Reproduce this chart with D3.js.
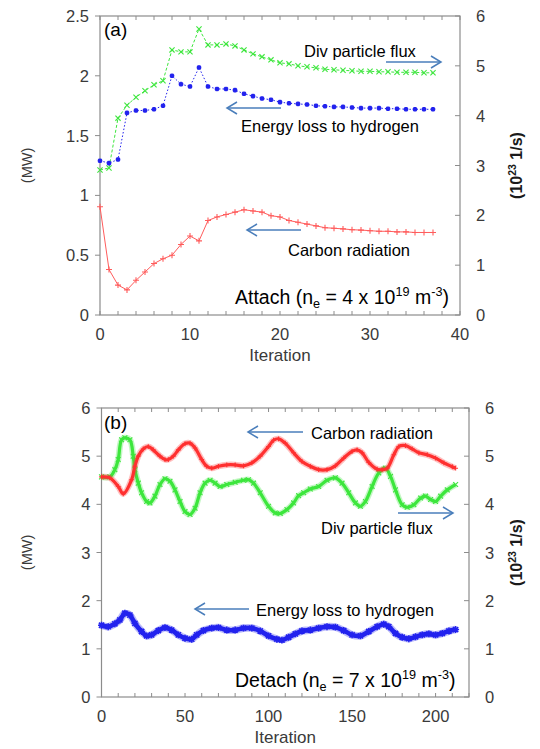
<!DOCTYPE html>
<html>
<head>
<meta charset="utf-8">
<script src="https://cdn.jsdelivr.net/npm/d3@7"></script>
<style>
  html, body { margin: 0; padding: 0; background: #fff; }
  svg { display: block; font-family: "Liberation Sans", Arial, sans-serif; }
</style>
</head>
<body>
<svg id="fig" width="540" height="749"></svg>
<script>
// ---- Panel (a): attached case, one point per iteration ----
const iterA = d3.range(0, 38);
const fluxA = [2.91, 2.95, 3.95, 4.21, 4.37, 4.50, 4.62, 4.70, 5.32, 5.28,
               5.28, 5.74, 5.42, 5.42, 5.44, 5.40, 5.32, 5.24, 5.18, 5.12,
               5.06, 5.04, 5.00, 4.98, 4.96, 4.93, 4.92, 4.91, 4.90, 4.89,
               4.89, 4.88, 4.88, 4.87, 4.87, 4.87, 4.86, 4.86];
const hydA = [1.29, 1.27, 1.30, 1.69, 1.71, 1.71, 1.72, 1.75, 2.00, 1.93,
              1.91, 2.07, 1.91, 1.89, 1.89, 1.88, 1.85, 1.83, 1.81, 1.80,
              1.78, 1.77, 1.765, 1.76, 1.75, 1.745, 1.74, 1.74, 1.735, 1.73,
              1.73, 1.73, 1.725, 1.725, 1.72, 1.72, 1.72, 1.72];
const carbA = [0.905, 0.38, 0.25, 0.21, 0.29, 0.36, 0.43, 0.47, 0.50, 0.59,
               0.66, 0.62, 0.79, 0.82, 0.84, 0.86, 0.88, 0.87, 0.86, 0.83,
               0.82, 0.79, 0.775, 0.76, 0.745, 0.73, 0.725, 0.72, 0.713, 0.71,
               0.705, 0.70, 0.70, 0.695, 0.695, 0.69, 0.69, 0.69];

// ---- Panel (b): detached case ----
const iterCarbB = [0, 5, 10, 13, 18, 20, 22, 25, 28, 31, 35, 38, 40, 43, 46, 50, 53, 56, 60, 63,
                   66, 70, 75, 80, 85, 90, 95, 100, 103, 106, 110, 115, 120, 125, 130, 135, 140,
                   145, 150, 153, 156, 160, 165, 168, 171, 175, 178, 182, 186, 190, 195, 200,
                   205, 210, 212];
const carbB = [4.57, 4.55, 4.37, 4.22, 4.51, 4.79, 5.00, 5.15, 5.20, 5.13, 5.00, 4.93, 4.93,
               5.00, 5.13, 5.26, 5.27, 5.17, 4.93, 4.79, 4.75, 4.79, 4.82, 4.82, 4.80, 4.86,
               5.00, 5.20, 5.33, 5.36, 5.27, 5.07, 4.89, 4.79, 4.72, 4.72, 4.80, 4.96, 5.10,
               5.13, 5.07, 4.87, 4.73, 4.72, 4.75, 5.03, 5.20, 5.22, 5.15, 5.07, 5.03, 4.96,
               4.86, 4.78, 4.75];
const iterFluxB = [0, 5, 8, 10, 12, 14, 17, 19, 20, 22, 24, 27, 29, 32, 35, 38, 41, 44, 47, 50,
                   53, 56, 59, 62, 65, 68, 71, 75, 80, 85, 88, 91, 95, 100, 104, 107, 111, 115,
                   118, 121, 125, 130, 135, 140, 144, 148, 152, 155, 158, 162, 166, 170, 173,
                   176, 180, 183, 187, 191, 194, 197, 200, 203, 207, 212];
const fluxB = [4.57, 4.57, 4.72, 4.93, 5.34, 5.38, 5.34, 5.00, 4.72, 4.44, 4.24, 4.06, 4.03,
               4.17, 4.41, 4.53, 4.48, 4.30, 4.06, 3.85, 3.79, 3.92, 4.24, 4.44, 4.50, 4.44,
               4.37, 4.41, 4.46, 4.50, 4.51, 4.44, 4.24, 3.96, 3.82, 3.81, 3.89, 4.03, 4.18,
               4.24, 4.32, 4.37, 4.50, 4.55, 4.44, 4.24, 4.03, 3.96, 4.06, 4.37, 4.65, 4.75,
               4.58, 4.30, 3.99, 3.94, 3.99, 4.13, 4.17, 4.10, 4.06, 4.17, 4.30, 4.41];
const iterHydB = [0, 4, 8, 11, 14, 17, 20, 24, 27, 30, 34, 38, 42, 46, 50, 54, 57, 61, 66, 70,
                  75, 80, 85, 90, 95, 100, 105, 108, 112, 116, 120, 125, 130, 135, 140, 145,
                  150, 155, 160, 165, 169, 172, 176, 180, 184, 188, 192, 196, 200, 204, 208, 212];
const hydB = [1.49, 1.46, 1.52, 1.60, 1.74, 1.70, 1.53, 1.36, 1.27, 1.29, 1.38, 1.44, 1.39,
              1.29, 1.22, 1.20, 1.29, 1.38, 1.43, 1.44, 1.39, 1.39, 1.43, 1.43, 1.37, 1.27,
              1.20, 1.18, 1.24, 1.31, 1.37, 1.39, 1.43, 1.46, 1.45, 1.38, 1.29, 1.27, 1.36,
              1.46, 1.51, 1.46, 1.32, 1.24, 1.21, 1.25, 1.29, 1.31, 1.29, 1.32, 1.37, 1.40];

// ---- Axis tick labels ----
const xTicksA = [0, 10, 20, 30, 40];
const yLeftTicksA = [0, 0.5, 1, 1.5, 2, 2.5];
const yRightTicks = [0, 1, 2, 3, 4, 5, 6];
const xTicksB = [0, 50, 100, 150, 200];
const yLeftTicksB = [0, 1, 2, 3, 4, 5, 6];

const GREEN = "#3de63d", BLUE = "#2222ee", RED_A = "#ff5c5c", RED_B = "#ff3030";
const ARROW = "#4a7ebb", FRAME = "#8c8c8c", TICKTXT = "#3a3a3a";

const svg = d3.select("#fig");
const defs = svg.append("defs");
defs.append("filter").attr("id", "soft")
  .append("feGaussianBlur").attr("stdDeviation", 0.7);

function drawFrame(g, box, xs, yl, yr, opts) {
  const { left, right, top, bottom } = box;
  // minor ticks along bottom and top (inward)
  opts.xMinor.forEach(v => {
    const x = xs(v);
    g.append("line").attr("x1", x).attr("x2", x).attr("y1", bottom).attr("y2", bottom - 4)
      .attr("stroke", FRAME).attr("stroke-width", 1);
    g.append("line").attr("x1", x).attr("x2", x).attr("y1", top).attr("y2", top + 4)
      .attr("stroke", FRAME).attr("stroke-width", 1);
  });
  // left ticks (outward) and right ticks (inward)
  opts.yLeft.forEach(v => {
    const y = yl(v);
    g.append("line").attr("x1", left - 5).attr("x2", left).attr("y1", y).attr("y2", y)
      .attr("stroke", FRAME);
  });
  yRightTicks.forEach(v => {
    const y = yr(v);
    g.append("line").attr("x1", right - 5).attr("x2", right).attr("y1", y).attr("y2", y)
      .attr("stroke", FRAME);
  });
  g.append("rect").attr("x", left).attr("y", top).attr("width", right - left)
    .attr("height", bottom - top).attr("fill", "none").attr("stroke", FRAME).attr("stroke-width", 1.2);

  // tick labels
  const lab = g.append("g").attr("font-size", 16.5).attr("fill", TICKTXT);
  opts.xLab.forEach(v => lab.append("text").attr("x", xs(v)).attr("y", bottom + 25)
    .attr("text-anchor", "middle").text(v));
  opts.yLeft.forEach(v => lab.append("text").attr("x", left - 11).attr("y", yl(v) + 6)
    .attr("text-anchor", "end").text(v));
  yRightTicks.forEach(v => lab.append("text").attr("x", right + 16).attr("y", yr(v) + 6)
    .attr("text-anchor", "start").text(v));

  // axis titles
  const cy = (top + bottom) / 2;
  g.append("text").attr("transform", `translate(${left + (right - left) / 2},${bottom + 46})`)
    .attr("text-anchor", "middle").attr("font-size", 17).attr("fill", TICKTXT).text("Iteration");
  g.append("text").attr("transform", `translate(32,${cy}) rotate(-90)`)
    .attr("text-anchor", "middle").attr("font-size", 14.5).attr("fill", TICKTXT).text("(MW)");
  const rt = g.append("text").attr("transform", `translate(522,${cy}) rotate(-90)`)
    .attr("text-anchor", "middle").attr("font-size", 16).attr("font-weight", "bold").attr("fill", "#1a1a1a");
  rt.append("tspan").text("(10");
  rt.append("tspan").attr("font-size", 10.5).attr("dy", -6).text("23");
  rt.append("tspan").attr("dy", 6).text(" 1/s)");
}

function arrow(g, x1, x2, y) {
  const dir = Math.sign(x2 - x1);
  g.append("line").attr("x1", x1).attr("x2", x2).attr("y1", y).attr("y2", y)
    .attr("stroke", ARROW).attr("stroke-width", 1.5);
  g.append("path").attr("d", `M${x2 - dir * 10},${y - 6}L${x2},${y}L${x2 - dir * 10},${y + 6}`)
    .attr("fill", "none").attr("stroke", ARROW).attr("stroke-width", 1.5);
}

function label(g, x, y, size, parts) {
  const t = g.append("text").attr("x", x).attr("y", y).attr("font-size", size).attr("fill", "#000");
  parts.forEach(p => {
    const s = t.append("tspan").text(p.t);
    if (p.sub) s.attr("font-size", size * 0.65).attr("dy", 4);
    if (p.sup) s.attr("font-size", size * 0.65).attr("dy", -8);
    if (p.back) s.attr("dy", p.back);
  });
}

function markerX(g, pts, color, r) {
  g.selectAll(null).data(pts).join("path")
    .attr("d", d => `M${d[0] - r},${d[1] - r}L${d[0] + r},${d[1] + r}M${d[0] - r},${d[1] + r}L${d[0] + r},${d[1] - r}`)
    .attr("stroke", color).attr("stroke-width", 1.1).attr("fill", "none");
}
function markerPlus(g, pts, color, r) {
  g.selectAll(null).data(pts).join("path")
    .attr("d", d => `M${d[0] - r},${d[1]}L${d[0] + r},${d[1]}M${d[0]},${d[1] - r}L${d[0]},${d[1] + r}`)
    .attr("stroke", color).attr("stroke-width", 1.1).attr("fill", "none");
}
function markerStar(g, pts, color, r) {
  g.selectAll(null).data(pts).join("path")
    .attr("d", d => `M${d[0] - r},${d[1]}L${d[0] + r},${d[1]}M${d[0]},${d[1] - r}L${d[0]},${d[1] + r}` +
      `M${d[0] - r * 0.75},${d[1] - r * 0.75}L${d[0] + r * 0.75},${d[1] + r * 0.75}` +
      `M${d[0] - r * 0.75},${d[1] + r * 0.75}L${d[0] + r * 0.75},${d[1] - r * 0.75}`)
    .attr("stroke", color).attr("stroke-width", 1.6).attr("fill", "none");
}

// ================= Panel (a) =================
{
  const box = { left: 100, right: 460, top: 16, bottom: 315 };
  const x = d3.scaleLinear().domain([0, 40]).range([box.left, box.right]);
  const yl = d3.scaleLinear().domain([0, 2.5]).range([box.bottom, box.top]);
  const yr = d3.scaleLinear().domain([0, 6]).range([box.bottom, box.top]);
  const g = svg.append("g");

  drawFrame(g, box, x, yl, yr, {
    xMinor: d3.range(0, 41, 2), xLab: xTicksA, yLeft: yLeftTicksA
  });

  const plot = g.append("g");
  const line = (ys, yscale) => d3.line().x((d, i) => x(iterA[i])).y(d => yscale(d))(ys);

  plot.append("path").attr("d", line(fluxA, yr)).attr("fill", "none").attr("stroke", GREEN)
    .attr("stroke-width", 1).attr("stroke-dasharray", "3,2");
  markerX(plot, fluxA.map((v, i) => [x(iterA[i]), yr(v)]), GREEN, 2.6);

  plot.append("path").attr("d", line(hydA, yl)).attr("fill", "none").attr("stroke", BLUE)
    .attr("stroke-width", 1).attr("stroke-dasharray", "1.5,2");
  markerStar(plot, hydA.map((v, i) => [x(iterA[i]), yl(v)]), BLUE, 2.3);

  plot.append("path").attr("d", line(carbA, yl)).attr("fill", "none").attr("stroke", RED_A)
    .attr("stroke-width", 1);
  markerPlus(plot, carbA.map((v, i) => [x(iterA[i]), yl(v)]), RED_A, 3);

  label(g, 104, 36, 19, [{ t: "(a)" }]);
  label(g, 304, 57, 16.5, [{ t: "Div particle flux" }]);
  arrow(g, 386, 441, 62);
  label(g, 241, 132, 16.5, [{ t: "Energy loss to hydrogen" }]);
  arrow(g, 281, 227, 108);
  label(g, 288, 256, 16.5, [{ t: "Carbon radiation" }]);
  arrow(g, 301, 247, 230);
  label(g, 235, 304, 19.5, [
    { t: "Attach (n" }, { t: "e", sub: true }, { t: " = 4 x 10", back: -4 },
    { t: "19", sup: true }, { t: " m", back: 8 }, { t: "-3", sup: true }, { t: ")", back: 8 }
  ]);
}

// ================= Panel (b) =================
{
  const box = { left: 101.5, right: 469, top: 408, bottom: 697 };
  const x = d3.scaleLinear().domain([0, 220]).range([box.left, box.right]);
  const yl = d3.scaleLinear().domain([0, 6]).range([box.bottom, box.top]);
  const yr = d3.scaleLinear().domain([0, 6]).range([box.bottom, box.top]);
  const g = svg.append("g");

  drawFrame(g, box, x, yl, yr, {
    xMinor: d3.range(0, 221, 10), xLab: xTicksB, yLeft: yLeftTicksB
  });

  const plot = g.append("g");
  function band(iters, vals, yscale, color, w, marker) {
    const pts = vals.map((v, i) => [x(iters[i]), yscale(v)]);
    const path = d3.line().curve(d3.curveCatmullRom.alpha(0.5))(pts);
    plot.append("path").attr("d", path).attr("fill", "none").attr("stroke", color)
      .attr("stroke-width", w + 3).attr("stroke-opacity", 0.3).attr("filter", "url(#soft)");
    plot.append("path").attr("d", path).attr("fill", "none").attr("stroke", color)
      .attr("stroke-width", w).attr("stroke-linejoin", "round");
    marker(plot, pts, color, w * 0.75);
  }
  band(iterFluxB, fluxB, yr, GREEN, 3.2, markerX);
  band(iterCarbB, carbB, yl, RED_B, 3.2, markerPlus);
  band(iterHydB, hydB, yl, BLUE, 4.6, markerStar);

  label(g, 104, 429, 19, [{ t: "(b)" }]);
  label(g, 311, 439, 16.5, [{ t: "Carbon radiation" }]);
  arrow(g, 303, 248, 432);
  label(g, 321, 534, 16.5, [{ t: "Div particle flux" }]);
  arrow(g, 398, 453, 513);
  label(g, 256, 616, 16.5, [{ t: "Energy loss to hydrogen" }]);
  arrow(g, 249, 195, 609);
  label(g, 235, 687, 19.5, [
    { t: "Detach (n" }, { t: "e", sub: true }, { t: " = 7 x 10", back: -4 },
    { t: "19", sup: true }, { t: " m", back: 8 }, { t: "-3", sup: true }, { t: ")", back: 8 }
  ]);
}
</script>
</body>
</html>
